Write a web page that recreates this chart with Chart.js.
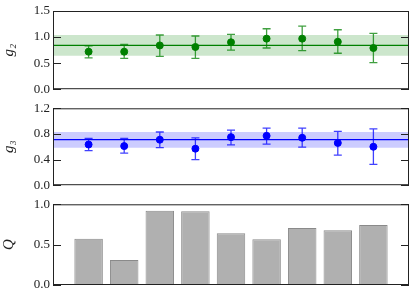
<!DOCTYPE html>
<html lang="en">
<head>
  <meta charset="UTF-8" />
  <title>g2 / g3 / Q</title>
  <script src="https://cdn.jsdelivr.net/npm/chart.js"></script>
  <style>
    body { margin: 0; background: #fff; }
    .wrap { position: relative; width: 415px; height: 296px; }
    canvas { position: absolute; left: 0; }
  </style>
</head>
<body>
  <div class="wrap">
    <canvas id="g2Chart" width="415" height="100" style="top:0"></canvas>
    <canvas id="g3Chart" width="415" height="100" style="top:96px"></canvas>
    <canvas id="qChart" width="415" height="104" style="top:192px"></canvas>
  </div>

  <script>
    // categories sit at x = 1..9 on a 0..10 axis
    const positions = [1, 2, 3, 4, 5, 6, 7, 8, 9];

    const g2Values = [0.72, 0.72, 0.84, 0.81, 0.90, 0.97, 0.97, 0.91, 0.79];
    const g2Low    = [0.60, 0.59, 0.63, 0.59, 0.75, 0.79, 0.74, 0.69, 0.51];
    const g2High   = [0.83, 0.86, 1.04, 1.02, 1.05, 1.16, 1.21, 1.14, 1.07];
    const g2Mean = 0.84;
    const g2Band = [0.64, 1.04];

    const g3Values = [0.635, 0.61, 0.71, 0.57, 0.75, 0.77, 0.74, 0.66, 0.60];
    const g3Low    = [0.54, 0.50, 0.585, 0.40, 0.63, 0.64, 0.595, 0.47, 0.325];
    const g3High   = [0.73, 0.73, 0.83, 0.74, 0.86, 0.89, 0.89, 0.84, 0.88];
    const g3Mean = 0.71;
    const g3Band = [0.585, 0.83];

    const qValues = [0.574, 0.31, 0.92, 0.913, 0.64, 0.566, 0.707, 0.678, 0.744];

    const serif = "'Liberation Serif', 'DejaVu Serif', serif";
    Chart.defaults.font.family = serif;
    Chart.defaults.font.size = 13;
    Chart.defaults.color = '#222';

    // frame + inward ticks on both sides, error bars under the markers
    const framePlugin = {
      id: 'frame',
      afterDraw(chart) {
        const { ctx, chartArea: a, scales } = chart;
        ctx.save();
        ctx.strokeStyle = '#222';
        ctx.lineWidth = 1;
        ctx.strokeRect(a.left + 0.5, a.top + 0.5, a.right - a.left - 1, a.bottom - a.top - 1);
        scales.y.ticks.forEach(t => {
          const py = Math.round(scales.y.getPixelForValue(t.value)) + 0.5;
          ctx.beginPath();
          ctx.moveTo(a.left, py); ctx.lineTo(a.left + 8, py);
          ctx.moveTo(a.right, py); ctx.lineTo(a.right - 8, py);
          ctx.stroke();
        });
        ctx.restore();
      },
      beforeDatasetDraw(chart, args) {
        const eb = chart.config.options.errBars;
        if (!eb || args.index !== 0) return;
        const { ctx, scales } = chart;
        ctx.save();
        ctx.strokeStyle = eb.color;
        ctx.lineWidth = 1.3;
        positions.forEach((p, i) => {
          const px = scales.x.getPixelForValue(p);
          const y1 = scales.y.getPixelForValue(eb.lo[i]);
          const y2 = scales.y.getPixelForValue(eb.hi[i]);
          ctx.beginPath();
          ctx.moveTo(px, y1); ctx.lineTo(px, y2);
          ctx.moveTo(px - 4, y1); ctx.lineTo(px + 4, y1);
          ctx.moveTo(px - 4, y2); ctx.lineTo(px + 4, y2);
          ctx.stroke();
        });
        ctx.restore();
      }
    };

    function yAxis(max, step, title) {
      return {
        min: 0, max: max,
        afterFit(s) { s.width = 53; },
        grid: { display: false, drawTicks: false },
        border: { display: false },
        ticks: { stepSize: step, padding: 3, callback: v => v.toFixed(1) },
        title: { display: true, text: title, font: { family: serif, size: 15, style: 'italic' }, padding: { top: 0, bottom: 0 } }
      };
    }
    const xAxis = { type: 'linear', min: 0, max: 10, offset: false, display: false, ticks: { stepSize: 1 } };

    function errPanel(id, vals, lo, hi, mean, band, color, fillColor, errColor, title, max, step, pad) {
      const line = v => [{ x: 0, y: v }, { x: 10, y: v }];
      new Chart(document.getElementById(id), {
        type: 'scatter',
        data: {
          datasets: [
            { data: positions.map((p, i) => ({ x: p, y: vals[i] })), backgroundColor: color, borderColor: color, pointRadius: 3.5 },
            { data: line(mean), showLine: true, borderColor: color, borderWidth: 1.2, pointRadius: 0 },
            { data: line(band[1]), showLine: true, borderWidth: 0, pointRadius: 0, fill: '+1', backgroundColor: fillColor },
            { data: line(band[0]), showLine: true, borderWidth: 0, pointRadius: 0 }
          ]
        },
        options: {
          responsive: false, animation: false,
          layout: { padding: pad },
          errBars: { lo: lo, hi: hi, color: errColor },
          plugins: { legend: { display: false }, tooltip: { enabled: false } },
          scales: { x: xAxis, y: yAxis(max, step, title) }
        },
        plugins: [framePlugin]
      });
    }

    window.onload = function () {
      errPanel('g2Chart', g2Values, g2Low, g2High, g2Mean, g2Band, '#008000', 'rgba(0,128,0,0.2)', 'rgba(0,128,0,0.75)',
        'g\u2082', 1.5, 0.5, { left: 0, right: 6, top: 11, bottom: 9.3 });
      errPanel('g3Chart', g3Values, g3Low, g3High, g3Mean, g3Band, '#0000ff', 'rgba(0,0,255,0.2)', 'rgba(0,0,255,0.75)',
        'g\u2083', 1.2, 0.4, { left: 0, right: 6, top: 12.3, bottom: 9 });

      new Chart(document.getElementById('qChart'), {
        type: 'bar',
        data: {
          datasets: [{
            data: positions.map((p, i) => ({ x: p, y: qValues[i] })),
            backgroundColor: '#b0b0b0', borderColor: '#8a8a8a', borderWidth: 1,
            barPercentage: 1, categoryPercentage: 0.8
          }]
        },
        options: {
          responsive: false, animation: false,
          layout: { padding: { left: 0, right: 6, top: 12.3, bottom: 11 } },
          plugins: { legend: { display: false }, tooltip: { enabled: false } },
          scales: { x: xAxis, y: yAxis(1.0, 0.5, 'Q') }
        },
        plugins: [framePlugin]
      });
    };
  </script>
</body>
</html>
